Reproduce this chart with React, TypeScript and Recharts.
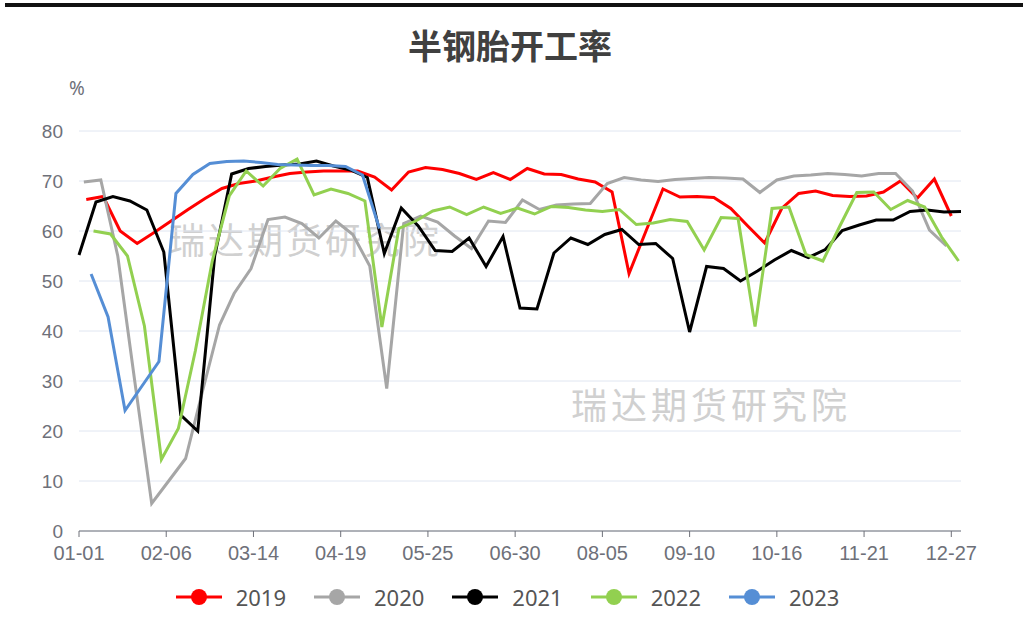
import React from 'react';
import { LineChart, Line, XAxis, YAxis, CartesianGrid } from 'recharts';

// ---- data ----
const tickDays = [0, 36, 72, 108, 144, 180, 216, 252, 288, 324, 360];
const tickLabels = ['01-01', '02-06', '03-14', '04-19', '05-25', '06-30', '08-05', '09-10', '10-16', '11-21', '12-27'];
const yTicks = [0, 10, 20, 30, 40, 50, 60, 70, 80];

const years = ['2019', '2020', '2021', '2022', '2023'];
const startDates = ['2019-01-04', '2020-01-03', '2021-01-01', '2022-01-07', '2023-01-06'];
const colors = ['#ff0000', '#a6a6a6', '#000000', '#92d050', '#558ed5'];

const v2019 = [66.3, 66.9, 60, 57.5, 59.7, 62, 64.3, 66.5, 68.5, 69.5, 70, 70.8, 71.5, 71.8, 72, 72, 72, 70.8, 68.2, 71.8, 72.7, 72.3, 71.5, 70.3, 71.7, 70.3, 72.5, 71.4, 71.3, 70.4, 69.8, 67.8, 51.5, 60, 68.4, 66.8, 66.9, 66.7, 64.5, 61, 57.6, 64.5, 67.5, 68, 67.1, 66.9, 67, 67.8, 70, 66.6, 70.4, 63];
const v2020 = [69.8, 70.2, 55, 30, 5.5, 10, 14.5, 28, 41.2, 47.5, 52.5, 62.3, 62.8, 61.5, 58.6, 62, 59.3, 53, 28.5, 61.5, 63, 61.8, 59, 56.5, 62, 61.7, 66.2, 64.3, 65.2, 65.4, 65.5, 69.5, 70.7, 70.2, 69.9, 70.3, 70.5, 70.7, 70.6, 70.4, 67.7, 70.2, 71, 71.2, 71.5, 71.3, 71, 71.5, 71.5, 68, 60.2, 57];
const v2021 = [55.2, 65.8, 66.9, 66, 64.2, 55.8, 23.2, 20, 55, 71.4, 72.5, 72.9, 73.2, 73.4, 74, 73, 72.2, 70.7, 55.5, 64.6, 61, 56.1, 55.9, 58.6, 52.9, 58.9, 44.6, 44.4, 55.6, 58.6, 57.3, 59.3, 60.3, 57.3, 57.5, 54.5, 39.8, 52.9, 52.5, 50, 52, 54.2, 56.1, 54.7, 56.3, 60.1, 61.2, 62.2, 62.2, 63.9, 64.2, 63.8, 63.9];
const v2022 = [60, 59.4, 55, 41, 14.3, 20.5, 36, 54, 67, 72, 69, 72.5, 74.4, 67.2, 68.4, 67.5, 66, 40.8, 60.5, 62, 64, 64.8, 63.3, 64.8, 63.5, 64.6, 63.4, 64.9, 64.7, 64.2, 63.9, 64.3, 61.3, 61.6, 62.3, 61.9, 56.2, 62.7, 62.5, 40.9, 64.5, 64.8, 55.3, 54, 61, 67.7, 67.8, 64.3, 66.1, 64.8, 58.8, 54];
const v2023 = [51.4, 42.8, 24.1, 29, 33.9, 67.5, 71.3, 73.5, 73.9, 74, 73.7, 73.3, 73.2, 73.1, 73.1, 72.9, 71.2, 60.5];
const seriesValues = [v2019, v2020, v2021, v2022, v2023];

// map a weekly date onto the month-day axis (days since 01-01 of a common year)
function dayOfAxis(d: Date): number {
  const ref = Date.UTC(2019, d.getUTCMonth(), d.getUTCDate());
  return Math.round((ref - Date.UTC(2019, 0, 1)) / 86400000);
}

function buildSeries(start: string, values: number[]) {
  const s = new Date(start + 'T00:00:00Z');
  return values.map((v, i) => {
    const d = new Date(s.getTime() + i * 7 * 86400000);
    return { d: dayOfAxis(d), v };
  });
}

const seriesData = seriesValues.map((vals, i) => buildSeries(startDates[i], vals));

const FONT = "'Noto Sans', 'Noto Sans CJK SC', sans-serif";
const TICK_FONT = "'Liberation Sans', Arial, sans-serif";
const CJK = "'Noto Sans CJK SC', sans-serif";
const AXIS_COLOR = '#6e7079';

export default function App() {
  return (
    <div style={{ position: 'absolute', left: 0, top: 0, width: 1023, height: 637, background: '#fff', overflow: 'hidden', fontFamily: FONT }}>
      <div style={{ position: 'absolute', left: 5, top: 3, width: 1018, height: 4, background: '#111' }} />
      <div style={{ position: 'absolute', left: 0, top: 21, width: 1020, textAlign: 'center', fontFamily: CJK, fontWeight: 700, fontSize: 34, color: '#404040', lineHeight: '48px' }}>
        半钢胎开工率
      </div>
      <div style={{ position: 'absolute', left: 69, top: 75, fontSize: 19, color: AXIS_COLOR }}>%</div>
      <div style={{ position: 'absolute', left: 169, top: 212, fontSize: 36, color: '#d0d0d0', fontFamily: CJK, letterSpacing: 3 }}>瑞达期货研究院</div>
      <div style={{ position: 'absolute', left: 571, top: 377, fontSize: 36, color: '#d0d0d0', fontFamily: CJK, letterSpacing: 4 }}>瑞达期货研究院</div>
      <div style={{ position: 'absolute', left: 0, top: 0 }}>
        <LineChart width={1023} height={637} margin={{ top: 131, right: 62, left: 0, bottom: 66 }}>
          <CartesianGrid vertical={false} stroke="#e0e6f1" />
          <XAxis
            dataKey="d"
            type="number"
            domain={[0, 364]}
            ticks={tickDays}
            tickFormatter={(d: number) => tickLabels[tickDays.indexOf(d)]}
            allowDuplicatedCategory={false}
            height={40}
            stroke={AXIS_COLOR}
            tickSize={6}
            tickMargin={9}
            tick={{ fill: AXIS_COLOR, fontSize: 20, fontFamily: TICK_FONT }}
            interval={0}
          />
          <YAxis
            type="number"
            domain={[0, 80]}
            ticks={yTicks}
            width={79}
            axisLine={false}
            tickLine={false}
            tickSize={0}
            tickMargin={16}
            tick={{ fill: AXIS_COLOR, fontSize: 19, fontFamily: TICK_FONT }}
          />
          {years.map((y, i) => (
            <Line
              key={y}
              data={seriesData[i]}
              dataKey="v"
              name={y}
              type="linear"
              stroke={colors[i]}
              strokeWidth={3}
              dot={false}
              activeDot={false}
              isAnimationActive={false}
            />
          ))}
        </LineChart>
      </div>
      <div style={{ position: 'absolute', left: 0, top: 582, width: 1023, display: 'flex', justifyContent: 'center', alignItems: 'center', gap: 20 }}>
        {years.map((y, i) => (
          <div key={y} style={{ display: 'flex', alignItems: 'center', gap: 14, marginRight: 8 }}>
            <svg width={46} height={22}>
              <line x1={0} y1={11} x2={46} y2={11} stroke={colors[i]} strokeWidth={3} />
              <circle cx={23} cy={11} r={8} fill={colors[i]} />
            </svg>
            <span style={{ fontSize: 22, color: '#555', fontFamily: FONT }}>{y}</span>
          </div>
        ))}
      </div>
    </div>
  );
}
